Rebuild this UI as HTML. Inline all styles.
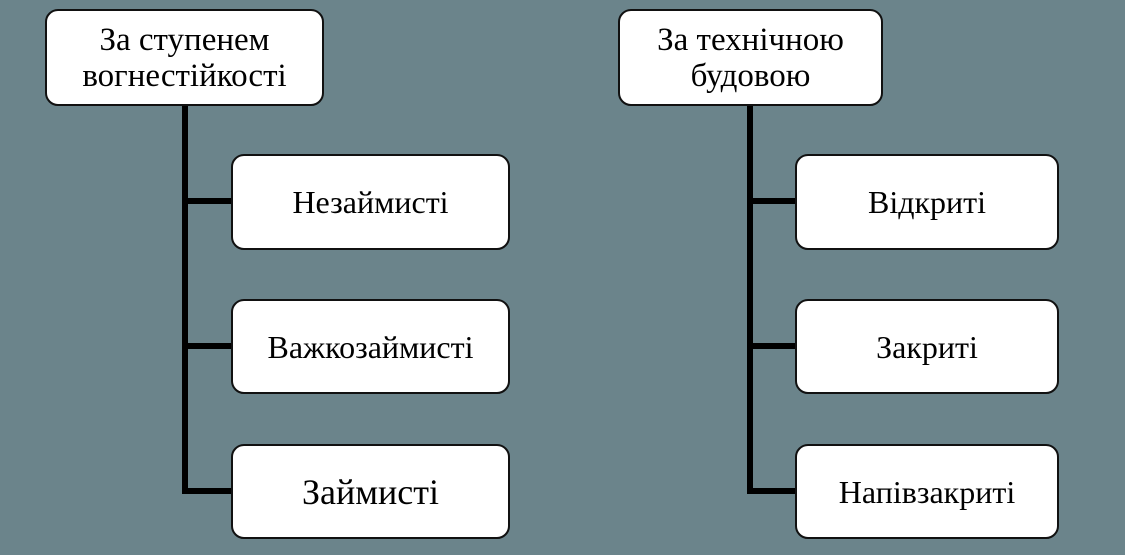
<!DOCTYPE html>
<html><head><meta charset="utf-8"><style>
body{margin:0;width:1125px;height:555px;background:#6b848b;position:relative;overflow:hidden;font-family:"Liberation Serif",serif;}
.b{position:absolute;background:#fff;border:2px solid #111;border-radius:13px;box-sizing:border-box;display:flex;align-items:center;justify-content:center;text-align:center;font-size:32px;line-height:36px;color:#000}
.l{position:absolute;background:#000}
</style></head><body>
<div class="l" style="left:182px;top:104px;width:6px;height:390px"></div>
<div class="l" style="left:182px;top:198px;width:50px;height:6px"></div>
<div class="l" style="left:182px;top:343px;width:50px;height:6px"></div>
<div class="l" style="left:182px;top:488px;width:50px;height:6px"></div>
<div class="l" style="left:747px;top:104px;width:6px;height:390px"></div>
<div class="l" style="left:747px;top:198px;width:50px;height:6px"></div>
<div class="l" style="left:747px;top:343px;width:50px;height:6px"></div>
<div class="l" style="left:747px;top:488px;width:50px;height:6px"></div>
<div class="b" style="left:45px;top:9px;width:279px;height:97px;font-size:33px">За ступенем<br>вогнестійкості</div>
<div class="b" style="left:231px;top:154px;width:279px;height:96px">Незаймисті</div>
<div class="b" style="left:231px;top:299px;width:279px;height:95px">Важкозаймисті</div>
<div class="b" style="left:231px;top:444px;width:279px;height:95px;font-size:36px">Займисті</div>
<div class="b" style="left:618px;top:9px;width:265px;height:97px;font-size:33px">За технічною<br>будовою</div>
<div class="b" style="left:795px;top:154px;width:264px;height:96px">Відкриті</div>
<div class="b" style="left:795px;top:299px;width:264px;height:95px">Закриті</div>
<div class="b" style="left:795px;top:444px;width:264px;height:95px">Напівзакриті</div>
</body></html>
